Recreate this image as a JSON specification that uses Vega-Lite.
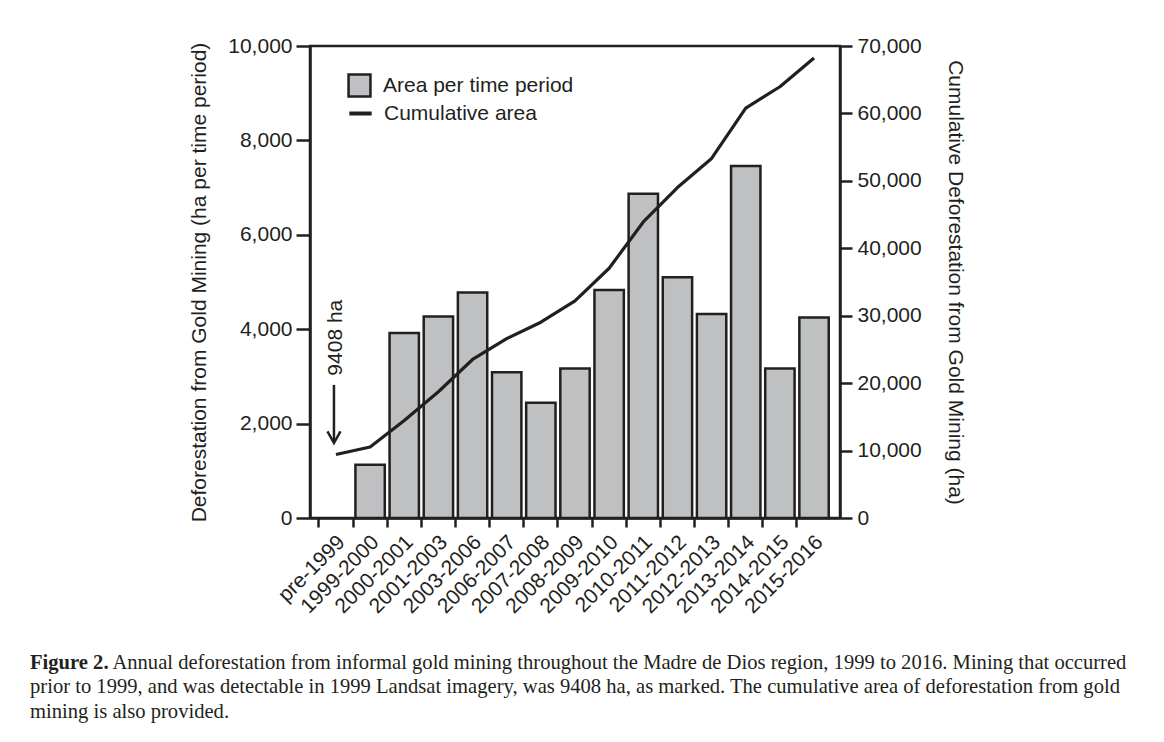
{
  "$schema": "https://vega.github.io/schema/vega-lite/v6.json",
  "width": 530,
  "height": 472,
  "autosize": "none",
  "padding": {"left": 310, "top": 46, "right": 324, "bottom": 224},
  "background": "white",
  "config": {
    "font": "Liberation Sans",
    "view": {"stroke": "#231f20", "strokeWidth": 2.5},
    "axis": {
      "domainColor": "#231f20", "domainWidth": 2.5,
      "tickColor": "#231f20", "tickWidth": 2.5,
      "labelColor": "#231f20", "titleColor": "#231f20",
      "labelFont": "Liberation Sans", "titleFont": "Liberation Sans",
      "labelFontSize": 21, "titleFontSize": 21, "titleFontWeight": "normal",
      "grid": false
    },
    "axisX": {"labelAngle": -45, "tickSize": 9, "bandPosition": 0, "labelOffset": -2, "labelPadding": 4, "title": null},
    "legend": {"labelFont": "Liberation Sans", "labelFontSize": 21, "labelColor": "#231f20", "labelLimit": 400}
  },
  "title": {
    "text": "Figure 2.",
    "subtitle": [
      "\u200b\u00a0\u00a0\u00a0\u00a0\u00a0\u00a0\u00a0\u00a0\u00a0\u00a0\u00a0\u00a0\u00a0\u00a0\u00a0\u00a0Annual deforestation from informal gold mining throughout the Madre de Dios region, 1999 to 2016. Mining that occurred",
      "prior to 1999, and was detectable in 1999 Landsat imagery, was 9408 ha, as marked. The cumulative area of deforestation from gold",
      "mining is also provided."
    ],
    "orient": "bottom",
    "anchor": "start",
    "frame": "group",
    "dx": -280,
    "offset": 36,
    "font": "Liberation Serif",
    "fontSize": 20.6,
    "fontWeight": "bold",
    "color": "#231f20",
    "subtitleFont": "Liberation Serif",
    "subtitleFontSize": 20.6,
    "subtitleFontWeight": "normal",
    "subtitleColor": "#231f20",
    "subtitleLineHeight": 24.5,
    "subtitlePadding": -20.6
  },
  "data": {
    "values": [
      {"period": "pre-1999", "area": null, "cumulative": 9408},
      {"period": "1999-2000", "area": 1130, "cumulative": 10538},
      {"period": "2000-2001", "area": 3920, "cumulative": 14458},
      {"period": "2001-2003", "area": 4270, "cumulative": 18728},
      {"period": "2003-2006", "area": 4780, "cumulative": 23508},
      {"period": "2006-2007", "area": 3090, "cumulative": 26598},
      {"period": "2007-2008", "area": 2440, "cumulative": 29038},
      {"period": "2008-2009", "area": 3170, "cumulative": 32208},
      {"period": "2009-2010", "area": 4830, "cumulative": 37038},
      {"period": "2010-2011", "area": 6870, "cumulative": 43908},
      {"period": "2011-2012", "area": 5100, "cumulative": 49008},
      {"period": "2012-2013", "area": 4320, "cumulative": 53328},
      {"period": "2013-2014", "area": 7460, "cumulative": 60788},
      {"period": "2014-2015", "area": 3170, "cumulative": 63958},
      {"period": "2015-2016", "area": 4250, "cumulative": 68208}
    ]
  },
  "layer": [
    {
      "layer": [
        {
          "mark": {"type": "bar", "width": {"band": 0.86}, "stroke": "#231f20", "strokeWidth": 2.5},
          "encoding": {
            "x": {"field": "period", "type": "ordinal", "sort": null, "title": null,
                  "scale": {"domain": ["pre-1999", "1999-2000", "2000-2001", "2001-2003", "2003-2006", "2006-2007", "2007-2008", "2008-2009", "2009-2010", "2010-2011", "2011-2012", "2012-2013", "2013-2014", "2014-2015", "2015-2016"],
                            "paddingInner": 0, "paddingOuter": 0.26}},
            "y": {"field": "area", "type": "quantitative",
                  "title": "Deforestation from Gold Mining (ha per time period)",
                  "scale": {"domain": [0, 10000], "nice": false},
                  "axis": {"values": [0, 2000, 4000, 6000, 8000, 10000], "format": ",d", "tickSize": 14, "labelPadding": 4, "titlePadding": 18}},
            "fill": {"datum": "Area per time period", "type": "nominal",
                     "scale": {"range": ["#bfc0c2"]},
                     "legend": {"orient": "none", "legendX": 37, "legendY": 27, "title": null,
                                "symbolType": "square", "symbolSize": 480,
                                "symbolStrokeColor": "#231f20", "symbolStrokeWidth": 2.5,
                                "symbolFillColor": "#bfc0c2", "labelOffset": 11}}
          }
        },
        {
          "data": {"values": [{"period": "pre-1999", "note": "9408 ha"}]},
          "mark": {"type": "text", "angle": 270, "align": "center", "baseline": "middle", "fontSize": 21, "color": "#231f20", "dx": 0},
          "encoding": {
            "x": {"field": "period", "type": "ordinal", "sort": null, "title": null},
            "y": {"datum": 3820, "type": "quantitative"},
            "text": {"field": "note"}
          }
        },
        {
          "data": {"values": [{"period": "pre-1999"}]},
          "mark": {"type": "rule", "stroke": "#231f20", "strokeWidth": 2.5, "xOffset": -2},
          "encoding": {
            "x": {"field": "period", "type": "ordinal", "sort": null, "title": null},
            "y": {"datum": 2820, "type": "quantitative"},
            "y2": {"datum": 1620}
          }
        },
        {
          "data": {"values": [{"period": "pre-1999"}]},
          "mark": {"type": "point", "shape": "M -1 -1.8 L 0 0 L 1 -1.8", "size": 169, "filled": false, "stroke": "#231f20", "strokeWidth": 2.5, "opacity": 1, "xOffset": -2},
          "encoding": {
            "x": {"field": "period", "type": "ordinal", "sort": null, "title": null},
            "y": {"datum": 1589, "type": "quantitative"}
          }
        }
      ]
    },
    {
      "mark": {"type": "line", "strokeWidth": 3.2, "strokeJoin": "round", "strokeCap": "butt"},
      "encoding": {
        "x": {"field": "period", "type": "ordinal", "sort": null, "title": null},
        "y": {"field": "cumulative", "type": "quantitative",
              "title": "Cumulative Deforestation from Gold Mining (ha)",
              "scale": {"domain": [0, 70000], "nice": false},
              "axis": {"orient": "right", "values": [0, 10000, 20000, 30000, 40000, 50000, 60000, 70000], "format": ",d", "tickSize": 12, "labelPadding": 5, "titlePadding": 23}},
        "stroke": {"datum": "Cumulative area", "type": "nominal",
                   "scale": {"range": ["#231f20"]},
                   "legend": {"orient": "none", "legendX": 37, "legendY": 54, "title": null,
                              "symbolType": "stroke", "symbolSize": 500, "symbolStrokeWidth": 4,
                              "labelOffset": 10}}
      }
    }
  ],
  "resolve": {"scale": {"y": "independent"}}
}
